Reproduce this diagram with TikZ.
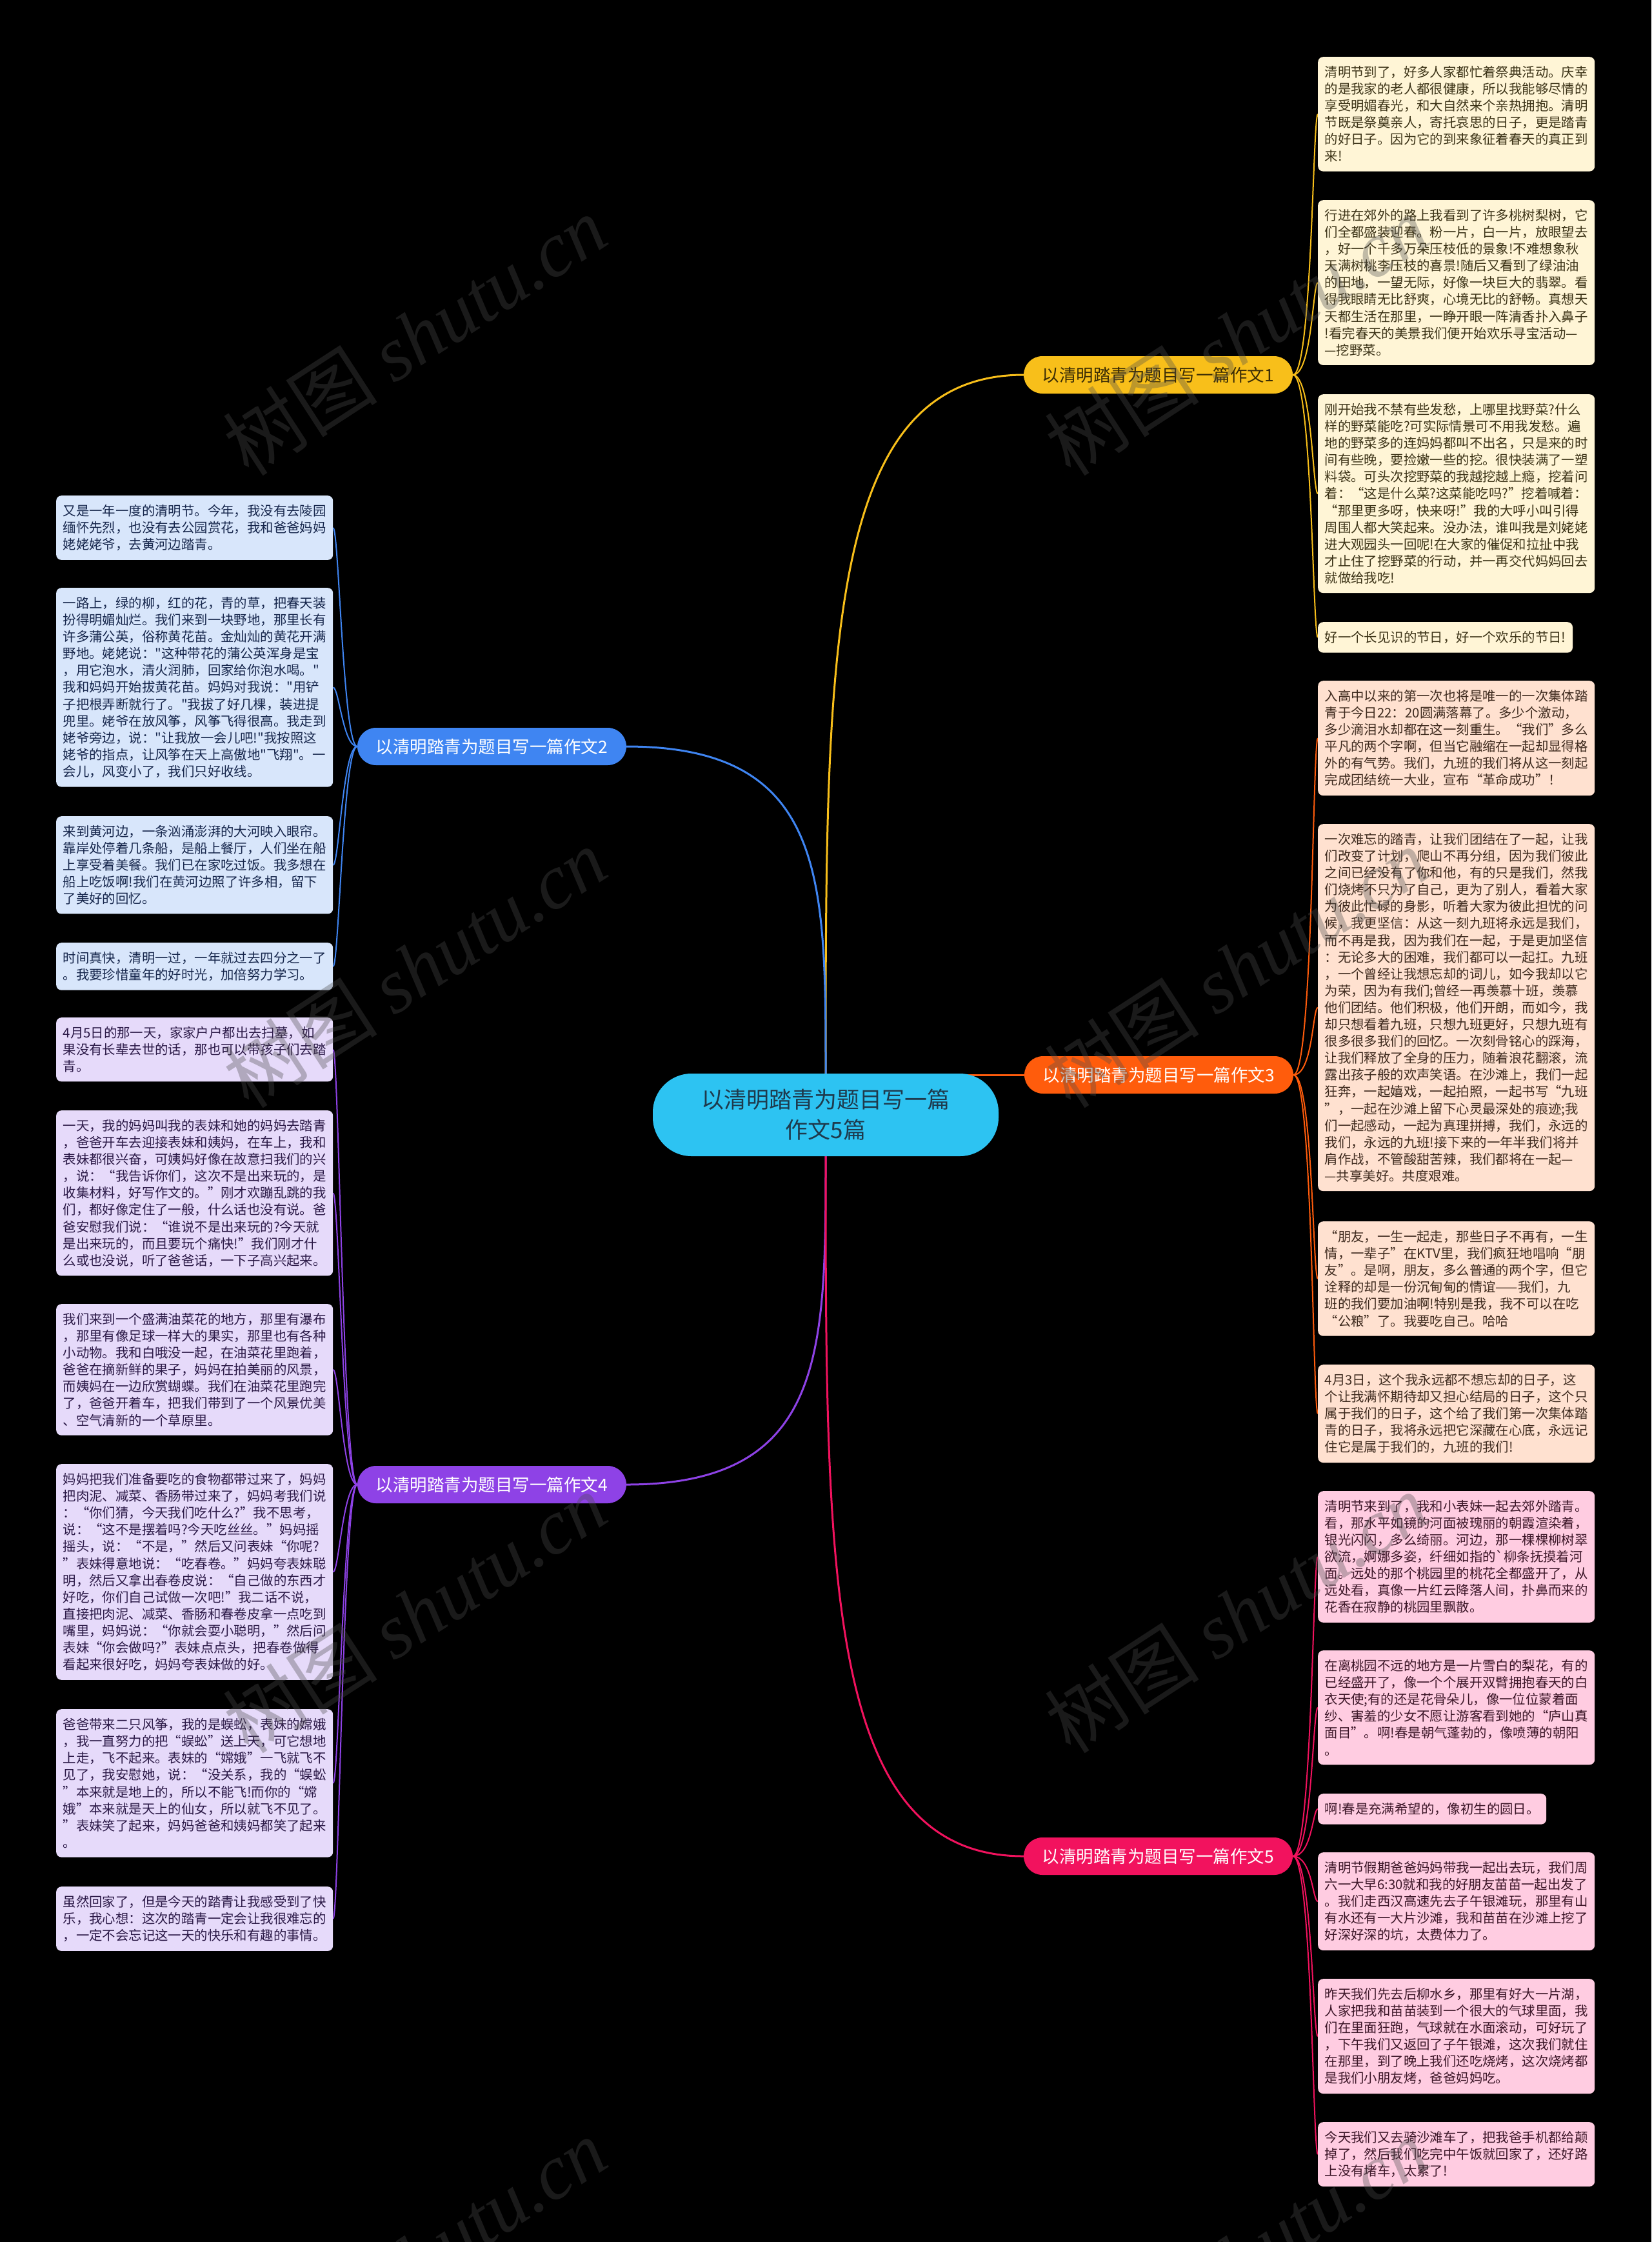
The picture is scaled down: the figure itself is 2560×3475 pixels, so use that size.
\documentclass[tikz,border=0pt]{standalone}
\usepackage{fontspec}
\setmainfont{Noto Sans CJK SC}[Ligatures=TeXOff]
\newfontfamily\wmlatin{Liberation Serif}[Ligatures=TeXOff]
\pgfdeclarelayer{background}
\pgfsetlayers{background,main}
\definecolor{cenfill}{HTML}{2DC3F2}
\definecolor{centext}{HTML}{1E3A4D}
\definecolor{ycol}{HTML}{F8BF1A}
\definecolor{ypilltext}{HTML}{3A2C05}
\definecolor{bcol}{HTML}{3F85F2}
\definecolor{ocol}{HTML}{FF5C0C}
\definecolor{pcol}{HTML}{8E42E6}
\definecolor{kcol}{HTML}{F2125E}
\definecolor{yfill}{HTML}{FFF5D6}
\definecolor{ytext}{HTML}{3B3216}
\definecolor{ofill}{HTML}{FFE1D0}
\definecolor{otext}{HTML}{3E2A1E}
\definecolor{kfill}{HTML}{FFCCE1}
\definecolor{ktext}{HTML}{3C1628}
\definecolor{bfill}{HTML}{D8E6FB}
\definecolor{btext}{HTML}{16264C}
\definecolor{pfill}{HTML}{E6DAFA}
\definecolor{ptext}{HTML}{2B1947}
\definecolor{wmgray}{HTML}{4D4D4D}
\tikzset{
  txtbox/.style={rounded corners=8pt, inner xsep=10.5pt, inner ysep=14pt, align=left,
    text width=408pt, anchor=north west, font=\fontsize{20.4pt}{26.1pt}\selectfont},
  shortbox/.style={rounded corners=8pt, inner xsep=10.5pt, inner ysep=14pt, align=left,
    anchor=north west, font=\fontsize{20.4pt}{26.1pt}\selectfont},
  ybox/.style={fill=yfill, text=ytext},
  obox/.style={fill=ofill, text=otext},
  kbox/.style={fill=kfill, text=ktext},
  bbox/.style={fill=bfill, text=btext},
  pbox/.style={fill=pfill, text=ptext},
  bpill/.style={rounded corners=29pt, minimum width=417pt, minimum height=58pt, inner sep=0pt,
    font=\fontsize{26.5pt}{30pt}\selectfont},
  cpill/.style={rounded corners=60pt, minimum width=536pt, minimum height=128pt, inner sep=0pt,
    align=center, fill=cenfill, text=centext, font=\fontsize{35pt}{47pt}\selectfont},
  mainline/.style={line width=3pt},
  subline/.style={line width=2pt},
  wm/.style={text=wmgray, text opacity=0.35, font=\fontsize{120pt}{130pt}\selectfont, inner sep=0pt, rotate=33},
}
\begin{document}
\begin{tikzpicture}[x=1pt,y=-1pt]
\useasboundingbox (0,0) rectangle (2560,3475);

% center and branches
\node[cpill] (c) at (1280,1728) {以清明踏青为题目写一篇\\作文5篇};
\node[bpill, fill=ycol, text=ypilltext] (b1) at (1795.5,581) {以清明踏青为题目写一篇作文1};
\node[bpill, fill=bcol, text=white] (b2) at (762.5,1157) {以清明踏青为题目写一篇作文2};
\node[bpill, fill=ocol, text=white] (b3) at (1796.5,1666) {以清明踏青为题目写一篇作文3};
\node[bpill, fill=pcol, text=white] (b4) at (762.5,2301) {以清明踏青为题目写一篇作文4};
\node[bpill, fill=kcol, text=white] (b5) at (1795.5,2877) {以清明踏青为题目写一篇作文5};

% branch 1 boxes
\node[txtbox, ybox] (y1) at (2043,88) {清明节到了，好多人家都忙着祭典活动。庆幸\\
的是我家的老人都很健康，所以我能够尽情的\\
享受明媚春光，和大自然来个亲热拥抱。清明\\
节既是祭奠亲人，寄托哀思的日子，更是踏青\\
的好日子。因为它的到来象征着春天的真正到\\
来!};
\node[txtbox, ybox] (y2) at (2043,310) {行进在郊外的路上我看到了许多桃树梨树，它\\
们全都盛装迎春。粉一片，白一片，放眼望去\\
，好一个千多万朵压枝低的景象!不难想象秋\\
天满树桃李压枝的喜景!随后又看到了绿油油\\
的田地，一望无际，好像一块巨大的翡翠。看\\
得我眼睛无比舒爽，心境无比的舒畅。真想天\\
天都生活在那里，一睁开眼一阵清香扑入鼻子\\
!看完春天的美景我们便开始欢乐寻宝活动—\\
—挖野菜。};
\node[txtbox, ybox] (y3) at (2043,611) {刚开始我不禁有些发愁，上哪里找野菜?什么\\
样的野菜能吃?可实际情景可不用我发愁。遍\\
地的野菜多的连妈妈都叫不出名，只是来的时\\
间有些晚，要捡嫩一些的挖。很快装满了一塑\\
料袋。可头次挖野菜的我越挖越上瘾，挖着问\\
着：“这是什么菜?这菜能吃吗?”挖着喊着：\\
“那里更多呀，快来呀!”我的大呼小叫引得\\
周围人都大笑起来。没办法，谁叫我是刘姥姥\\
进大观园头一回呢!在大家的催促和拉扯中我\\
才止住了挖野菜的行动，并一再交代妈妈回去\\
就做给我吃!};
\node[shortbox, ybox] (y4) at (2043,964) {好一个长见识的节日，好一个欢乐的节日!};

% branch 3 boxes
\node[txtbox, obox] (o1) at (2043,1055) {入高中以来的第一次也将是唯一的一次集体踏\\
青于今日22：20圆满落幕了。多少个激动，\\
多少滴泪水却都在这一刻重生。“我们”多么\\
平凡的两个字啊，但当它融缩在一起却显得格\\
外的有气势。我们，九班的我们将从这一刻起\\
完成团结统一大业，宣布“革命成功”！};
\node[txtbox, obox] (o2) at (2043,1277) {一次难忘的踏青，让我们团结在了一起，让我\\
们改变了计划，爬山不再分组，因为我们彼此\\
之间已经没有了你和他，有的只是我们，然我\\
们烧烤不只为了自己，更为了别人，看着大家\\
为彼此忙碌的身影，听着大家为彼此担忧的问\\
候，我更坚信：从这一刻九班将永远是我们，\\
而不再是我，因为我们在一起，于是更加坚信\\
：无论多大的困难，我们都可以一起扛。九班\\
，一个曾经让我想忘却的词儿，如今我却以它\\
为荣，因为有我们;曾经一再羡慕十班，羡慕\\
他们团结。他们积极，他们开朗，而如今，我\\
却只想看着九班，只想九班更好，只想九班有\\
很多很多我们的回忆。一次刻骨铭心的踩海，\\
让我们释放了全身的压力，随着浪花翻滚，流\\
露出孩子般的欢声笑语。在沙滩上，我们一起\\
狂奔，一起嬉戏，一起拍照，一起书写“九班\\
”，一起在沙滩上留下心灵最深处的痕迹;我\\
们一起感动，一起为真理拼搏，我们，永远的\\
我们，永远的九班!接下来的一年半我们将并\\
肩作战，不管酸甜苦辣，我们都将在一起—\\
—共享美好。共度艰难。};
\node[txtbox, obox] (o3) at (2043,1893) {“朋友，一生一起走，那些日子不再有，一生\\
情，一辈子”在KTV里，我们疯狂地唱响“朋\\
友”。是啊，朋友，多么普通的两个字，但它\\
诠释的却是一份沉甸甸的情谊——我们，九\\
班的我们要加油啊!特别是我，我不可以在吃\\
“公粮”了。我要吃自己。哈哈};
\node[txtbox, obox] (o4) at (2043,2115) {4月3日，这个我永远都不想忘却的日子，这\\
个让我满怀期待却又担心结局的日子，这个只\\
属于我们的日子，这个给了我们第一次集体踏\\
青的日子，我将永远把它深藏在心底，永远记\\
住它是属于我们的，九班的我们!};

% branch 5 boxes
\node[txtbox, kbox] (k1) at (2043,2311) {清明节来到了，我和小表妹一起去郊外踏青。\\
看，那水平如镜的河面被瑰丽的朝霞渲染着，\\
银光闪闪，多么绮丽。河边，那一棵棵柳树翠\\
欲流，婀娜多姿，纤细如指的`柳条抚摸着河\\
面。远处的那个桃园里的桃花全都盛开了，从\\
远处看，真像一片红云降落人间，扑鼻而来的\\
花香在寂静的桃园里飘散。};
\node[txtbox, kbox] (k2) at (2043,2558) {在离桃园不远的地方是一片雪白的梨花，有的\\
已经盛开了，像一个个展开双臂拥抱春天的白\\
衣天使;有的还是花骨朵儿，像一位位蒙着面\\
纱、害羞的少女不愿让游客看到她的“庐山真\\
面目”。啊!春是朝气蓬勃的，像喷薄的朝阳\\
。};
\node[shortbox, kbox] (k3) at (2043,2780) {啊!春是充满希望的，像初生的圆日。};
\node[txtbox, kbox] (k4) at (2043,2871) {清明节假期爸爸妈妈带我一起出去玩，我们周\\
六一大早6:30就和我的好朋友苗苗一起出发了\\
。我们走西汉高速先去子午银滩玩，那里有山\\
有水还有一大片沙滩，我和苗苗在沙滩上挖了\\
好深好深的坑，太费体力了。};
\node[txtbox, kbox] (k5) at (2043,3067) {昨天我们先去后柳水乡，那里有好大一片湖，\\
人家把我和苗苗装到一个很大的气球里面，我\\
们在里面狂跑，气球就在水面滚动，可好玩了\\
，下午我们又返回了子午银滩，这次我们就住\\
在那里，到了晚上我们还吃烧烤，这次烧烤都\\
是我们小朋友烤，爸爸妈妈吃。};
\node[txtbox, kbox] (k6) at (2043,3289) {今天我们又去骑沙滩车了，把我爸手机都给颠\\
掉了，然后我们吃完中午饭就回家了，还好路\\
上没有堵车，太累了!};

% branch 2 boxes
\node[txtbox, bbox] (u1) at (87,768) {又是一年一度的清明节。今年，我没有去陵园\\
缅怀先烈，也没有去公园赏花，我和爸爸妈妈\\
姥姥姥爷，去黄河边踏青。};
\node[txtbox, bbox] (u2) at (87,911) {一路上，绿的柳，红的花，青的草，把春天装\\
扮得明媚灿烂。我们来到一块野地，那里长有\\
许多蒲公英，俗称黄花苗。金灿灿的黄花开满\\
野地。姥姥说："这种带花的蒲公英浑身是宝\\
，用它泡水，清火润肺，回家给你泡水喝。"\\
我和妈妈开始拔黄花苗。妈妈对我说："用铲\\
子把根弄断就行了。"我拔了好几棵，装进提\\
兜里。姥爷在放风筝，风筝飞得很高。我走到\\
姥爷旁边，说："让我放一会儿吧!"我按照这\\
姥爷的指点，让风筝在天上高傲地"飞翔"。一\\
会儿，风变小了，我们只好收线。};
\node[txtbox, bbox] (u3) at (87,1265) {来到黄河边，一条汹涌澎湃的大河映入眼帘。\\
靠岸处停着几条船，是船上餐厅，人们坐在船\\
上享受着美餐。我们已在家吃过饭。我多想在\\
船上吃饭啊!我们在黄河边照了许多相，留下\\
了美好的回忆。};
\node[txtbox, bbox] (u4) at (87,1461) {时间真快，清明一过，一年就过去四分之一了\\
。我要珍惜童年的好时光，加倍努力学习。};

% branch 4 boxes
\node[txtbox, pbox] (v1) at (87,1577) {4月5日的那一天，家家户户都出去扫墓，如\\
果没有长辈去世的话，那也可以带孩子们去踏\\
青。};
\node[txtbox, pbox] (v2) at (87,1721) {一天，我的妈妈叫我的表妹和她的妈妈去踏青\\
，爸爸开车去迎接表妹和姨妈，在车上，我和\\
表妹都很兴奋，可姨妈好像在故意扫我们的兴\\
，说：“我告诉你们，这次不是出来玩的，是\\
收集材料，好写作文的。”刚才欢蹦乱跳的我\\
们，都好像定住了一般，什么话也没有说。爸\\
爸安慰我们说：“谁说不是出来玩的?今天就\\
是出来玩的，而且要玩个痛快!”我们刚才什\\
么或也没说，听了爸爸话，一下子高兴起来。};
\node[txtbox, pbox] (v3) at (87,2021) {我们来到一个盛满油菜花的地方，那里有瀑布\\
，那里有像足球一样大的果实，那里也有各种\\
小动物。我和白哦没一起，在油菜花里跑着，\\
爸爸在摘新鲜的果子，妈妈在拍美丽的风景，\\
而姨妈在一边欣赏蝴蝶。我们在油菜花里跑完\\
了，爸爸开着车，把我们带到了一个风景优美\\
、空气清新的一个草原里。};
\node[txtbox, pbox] (v4) at (87,2269) {妈妈把我们准备要吃的食物都带过来了，妈妈\\
把肉泥、减菜、香肠带过来了，妈妈考我们说\\
：“你们猜，今天我们吃什么?”我不思考，\\
说：“这不是摆着吗?今天吃丝丝。”妈妈摇\\
摇头，说：“不是，”然后又问表妹“你呢?\\
”表妹得意地说：“吃春卷。”妈妈夸表妹聪\\
明，然后又拿出春卷皮说：“自己做的东西才\\
好吃，你们自己试做一次吧!”我二话不说，\\
直接把肉泥、减菜、香肠和春卷皮拿一点吃到\\
嘴里，妈妈说：“你就会耍小聪明，”然后问\\
表妹“你会做吗?”表妹点点头，把春卷做得\\
看起来很好吃，妈妈夸表妹做的好。};
\node[txtbox, pbox] (v5) at (87,2649) {爸爸带来二只风筝，我的是蜈蚣，表妹的嫦娥\\
，我一直努力的把“蜈蚣”送上天，可它想地\\
上走，飞不起来。表妹的“嫦娥”一飞就飞不\\
见了，我安慰她，说：“没关系，我的“蜈蚣\\
”本来就是地上的，所以不能飞!而你的“嫦\\
娥”本来就是天上的仙女，所以就飞不见了。\\
”表妹笑了起来，妈妈爸爸和姨妈都笑了起来\\
。};
\node[txtbox, pbox] (v6) at (87,2924) {虽然回家了，但是今天的踏青让我感受到了快\\
乐，我心想：这次的踏青一定会让我很难忘的\\
，一定不会忘记这一天的快乐和有趣的事情。};

% connectors on background
\begin{pgfonlayer}{background}
\fill[black] (0,0) rectangle (2560,3475);
\draw[mainline, draw=ycol] (c.north) .. controls (1280,1014) and (1280,581) .. (b1.west);
\draw[mainline, draw=bcol] (c.north) .. controls (1280,1360) and (1280,1157) .. (b2.east);
\draw[mainline, draw=ocol] (c.center |- b3.west) -- (b3.west);
\draw[mainline, draw=pcol] (c.south) .. controls (1280,2097) and (1280,2301) .. (b4.east);
\draw[mainline, draw=kcol] (c.south) .. controls (1280,2443) and (1280,2877) .. (b5.west);
\foreach \n in {y1,y2,y3,y4}
  \draw[subline, draw=ycol] (b1.east) .. controls +(30,0) and +(-8,0) .. (\n.west);
\foreach \n in {o1,o2,o3,o4}
  \draw[subline, draw=ocol] (b3.east) .. controls +(30,0) and +(-8,0) .. (\n.west);
\foreach \n in {k1,k2,k3,k4,k5,k6}
  \draw[subline, draw=kcol] (b5.east) .. controls +(30,0) and +(-8,0) .. (\n.west);
\foreach \n in {u1,u2,u3,u4}
  \draw[subline, draw=bcol] (b2.west) .. controls +(-22,0) and +(9,0) .. (\n.east);
\foreach \n in {v1,v2,v3,v4,v5,v6}
  \draw[subline, draw=pcol] (b4.west) .. controls +(-22,0) and +(9,0) .. (\n.east);
\end{pgfonlayer}

% watermarks
\node[wm] (w1) at (643,520) {树图 {\wmlatin\itshape shutu.cn}};
\node[wm] (w2) at (1917,520) {树图 {\wmlatin\itshape shutu.cn}};
\node[wm] (w3) at (643,1500) {树图 {\wmlatin\itshape shutu.cn}};
\node[wm] (w4) at (1917,1500) {树图 {\wmlatin\itshape shutu.cn}};
\node[wm] (w5) at (643,2500) {树图 {\wmlatin\itshape shutu.cn}};
\node[wm] (w6) at (1917,2500) {树图 {\wmlatin\itshape shutu.cn}};
\node[wm] (w7) at (643,3500) {树图 {\wmlatin\itshape shutu.cn}};
\node[wm] (w8) at (1917,3500) {树图 {\wmlatin\itshape shutu.cn}};
\end{tikzpicture}
\end{document}
